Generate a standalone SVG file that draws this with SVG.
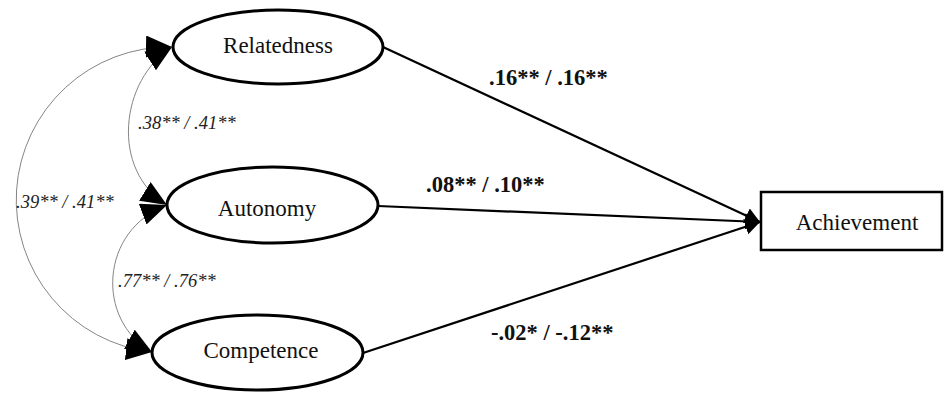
<svg xmlns="http://www.w3.org/2000/svg" width="945" height="393" viewBox="0 0 945 393">
<defs>
<marker id="bigHead" markerUnits="userSpaceOnUse" markerWidth="30" markerHeight="26" refX="26" refY="11" orient="auto-start-reverse" viewBox="0 0 30 26">
<path d="M0,0 L26,11 L0,22 z" fill="#000"/>
</marker>
<marker id="head" markerUnits="userSpaceOnUse" markerWidth="18" markerHeight="18" refX="15" refY="8" orient="auto" viewBox="0 0 18 18">
<path d="M0,0 L15,8 L0,16 z" fill="#000"/>
</marker>
</defs>
<style>
.node ellipse{fill:#fff;stroke:#000;stroke-width:3}
.node rect{fill:#fff;stroke:#000;stroke-width:2.5}
text{font-family:'Liberation Serif','DejaVu Serif',serif}
.lbl{font-size:23px;fill:#111;text-anchor:middle}
.path{stroke:#000;stroke-width:2.2;fill:none;marker-end:url(#head)}
.cov{stroke:#777;stroke-width:0.9;fill:none;marker-start:url(#bigHead);marker-end:url(#bigHead)}
.b{font-size:22.5px;font-weight:bold;fill:#111}
.i{font-size:18.5px;font-style:italic;fill:#222}
</style>
<rect width="945" height="393" fill="#fff"/>
<g id="connectors">
<line class="path" x1="383" y1="47" x2="760" y2="222"/>
<line class="path" x1="378" y1="206" x2="760" y2="222"/>
<line class="path" x1="363" y1="353" x2="760" y2="222"/>
<path class="cov" d="M172,47 C120,80 110,170 167,205"/>
<path class="cov" d="M167,205 C100,230 95,320 152,352"/>
<path class="cov" d="M172,47 A153,153 0 0 0 152,352"/>
<text class="b" x="489" y="85">.16** / .16**</text>
<text class="b" x="426" y="192">.08** / .10**</text>
<text class="b" x="491" y="340">-.02* / -.12**</text>
<text class="i" x="138" y="129">.38** / .41**</text>
<text class="i" x="16" y="208">.39** / .41**</text>
<text class="i" x="118" y="287">.77** / .76**</text>
</g>
<g id="relatedness" class="node">
<ellipse cx="278" cy="47" rx="105" ry="37"/>
<text class="lbl" x="278" y="53">Relatedness</text>
</g>
<g id="autonomy" class="node">
<ellipse cx="272.5" cy="205" rx="105.5" ry="38"/>
<text class="lbl" x="267" y="216">Autonomy</text>
</g>
<g id="competence" class="node">
<ellipse cx="257.5" cy="352.5" rx="105.5" ry="37.5"/>
<text class="lbl" x="261" y="358">Competence</text>
</g>
<g id="achievement" class="node">
<rect x="761" y="192" width="181" height="58"/>
<text class="lbl" x="857" y="230">Achievement</text>
</g>
</svg>
